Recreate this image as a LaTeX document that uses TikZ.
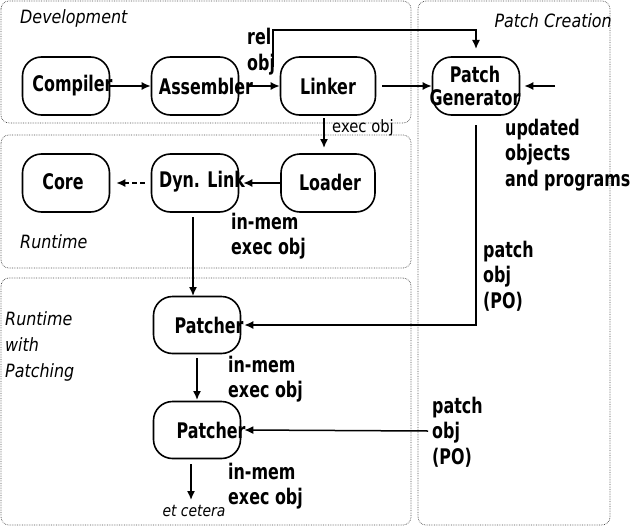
\documentclass[tikz,border=0pt]{standalone}
\usepackage{fontspec}
\setmainfont{DejaVu Sans}
\newfontfamily\bfont[FakeStretch=0.74,BoldFont={DejaVu Sans Bold}]{DejaVu Sans}
\newfontfamily\ifont[FakeStretch=0.87,ItalicFont={DejaVu Sans Oblique}]{DejaVu Sans}
\usetikzlibrary{arrows.meta}
\begin{document}
\begin{tikzpicture}[x=1pt,y=-1pt,
  group/.style={draw=black!70,densely dotted,line width=0.7pt,rounded corners=8pt},
  stage/.style={draw,line width=1.6pt,rounded corners=19pt,minimum width=87pt,minimum height=58pt,inner sep=0pt},
  btxt/.style={font=\bfont\fontsize{21.5}{22.5}\selectfont\bfseries,inner sep=0pt},
  lbl/.style={font=\bfont\fontsize{21.5}{25.7}\selectfont\bfseries,align=left,inner sep=0pt,anchor=west},
  itl/.style={font=\ifont\fontsize{18.3}{26}\selectfont\itshape,align=left,inner sep=0pt,anchor=west},
  arr/.style={line width=1.5pt,-{Latex[length=9pt,width=8pt]}}]
\useasboundingbox (0,0) rectangle (631,527);
% groups
\draw[group] (1,1) rectangle (411,123);
\draw[group] (1,135) rectangle (411,268);
\draw[group] (1,278) rectangle (411,525);
\draw[group] (418,1) rectangle (610,525);
\node[itl] (gdev) at (20,18) {Development};
\node[itl,anchor=east] (gpc) at (612,21) {Patch Creation};
\node[itl] (grt) at (20,242) {Runtime};
\node[itl] (grp) at (5,346) {Runtime\\with\\Patching};
% stages
\node[stage] (comp) at (66,86) {};
\node[stage] (asm) at (195,86) {};
\node[stage,minimum width=95pt] (link) at (328,86) {};
\node[stage] (pg) at (476,86) {};
\node[stage] (core) at (66,183) {};
\node[stage] (dyn) at (195,183) {};
\node[stage,minimum width=94pt] (load) at (328,183) {};
\node[stage,minimum height=57pt] (p1) at (197,325) {};
\node[stage,minimum height=57pt] (p2) at (197,430) {};
% stage texts
\node[btxt] (tcomp) at (72.5,86) {Compiler};
\node[btxt] (tasm) at (206,86) {Assembler};
\node[btxt] (tlink) at (328,86) {Linker};
\node[btxt,align=center] (tpg) at (475,86) {Patch\\Generator};
\node[btxt] (tcore) at (63,182) {Core};
\node[btxt] (tdyn) at (202,182) {Dyn. Link};
\node[btxt] (tload) at (330,182) {Loader};
\node[btxt] (tp1) at (209,325) {Patcher};
\node[btxt] (tp2) at (211,430) {Patcher};
% labels
\node[lbl] (lrel) at (247,52) {rel\\obj};
\node[lbl] (lupd) at (505,155) {updated\\objects\\and programs};
\node[lbl] (lpo1) at (483,276) {patch\\obj\\(PO)};
\node[lbl] (lpo2) at (432,432) {patch\\obj\\(PO)};
\node[lbl] (lim1) at (231,236) {in-mem\\exec obj};
\node[lbl] (lim2) at (228,379) {in-mem\\exec obj};
\node[lbl] (lim3) at (228,486) {in-mem\\exec obj};
\node[font=\ifont\fontsize{17}{18}\selectfont,inner sep=0pt,anchor=west] (lexec) at (332,128) {exec obj};
\node[font=\ifont\fontsize{16}{18}\selectfont\itshape,inner sep=0pt] (etc) at (194,511) {et cetera};
% coordinates
\coordinate (relstart) at (273,67);
\coordinate (pgin) at (555,86);
\coordinate (pgout) at (476,125);
\coordinate (po2start) at (428,431);
% connectors
\draw[arr] (comp.east) -- (asm.west);
\draw[arr] (248,86) -- (link.west);
\draw[line width=1.5pt,-{Latex[length=9pt,width=8pt]}] (relstart) |- (476,30) -- (476,49);
\draw[arr] (link.east) ++(6,0) -- (pg.west);
\draw[arr] (pgin) -- ([xshift=4pt]pg.east);
\draw[arr] (324,118) -- (324,148);
\draw[arr] (load.west) -- ([xshift=4pt]dyn.east);
\draw[arr,dash pattern=on 5pt off 3pt] ([xshift=-6pt]dyn.west) -- ([xshift=6pt]core.east);
\draw[arr] (193,217) -- (193,296);
\draw[arr] (pgout) |- ([xshift=3pt]p1.east);
\draw[arr] (197,358) -- (197,400);
\draw[arr] (po2start) -- ([xshift=3pt]p2.east);
\draw[arr] (191,464) -- (191,500);
\end{tikzpicture}
\end{document}
